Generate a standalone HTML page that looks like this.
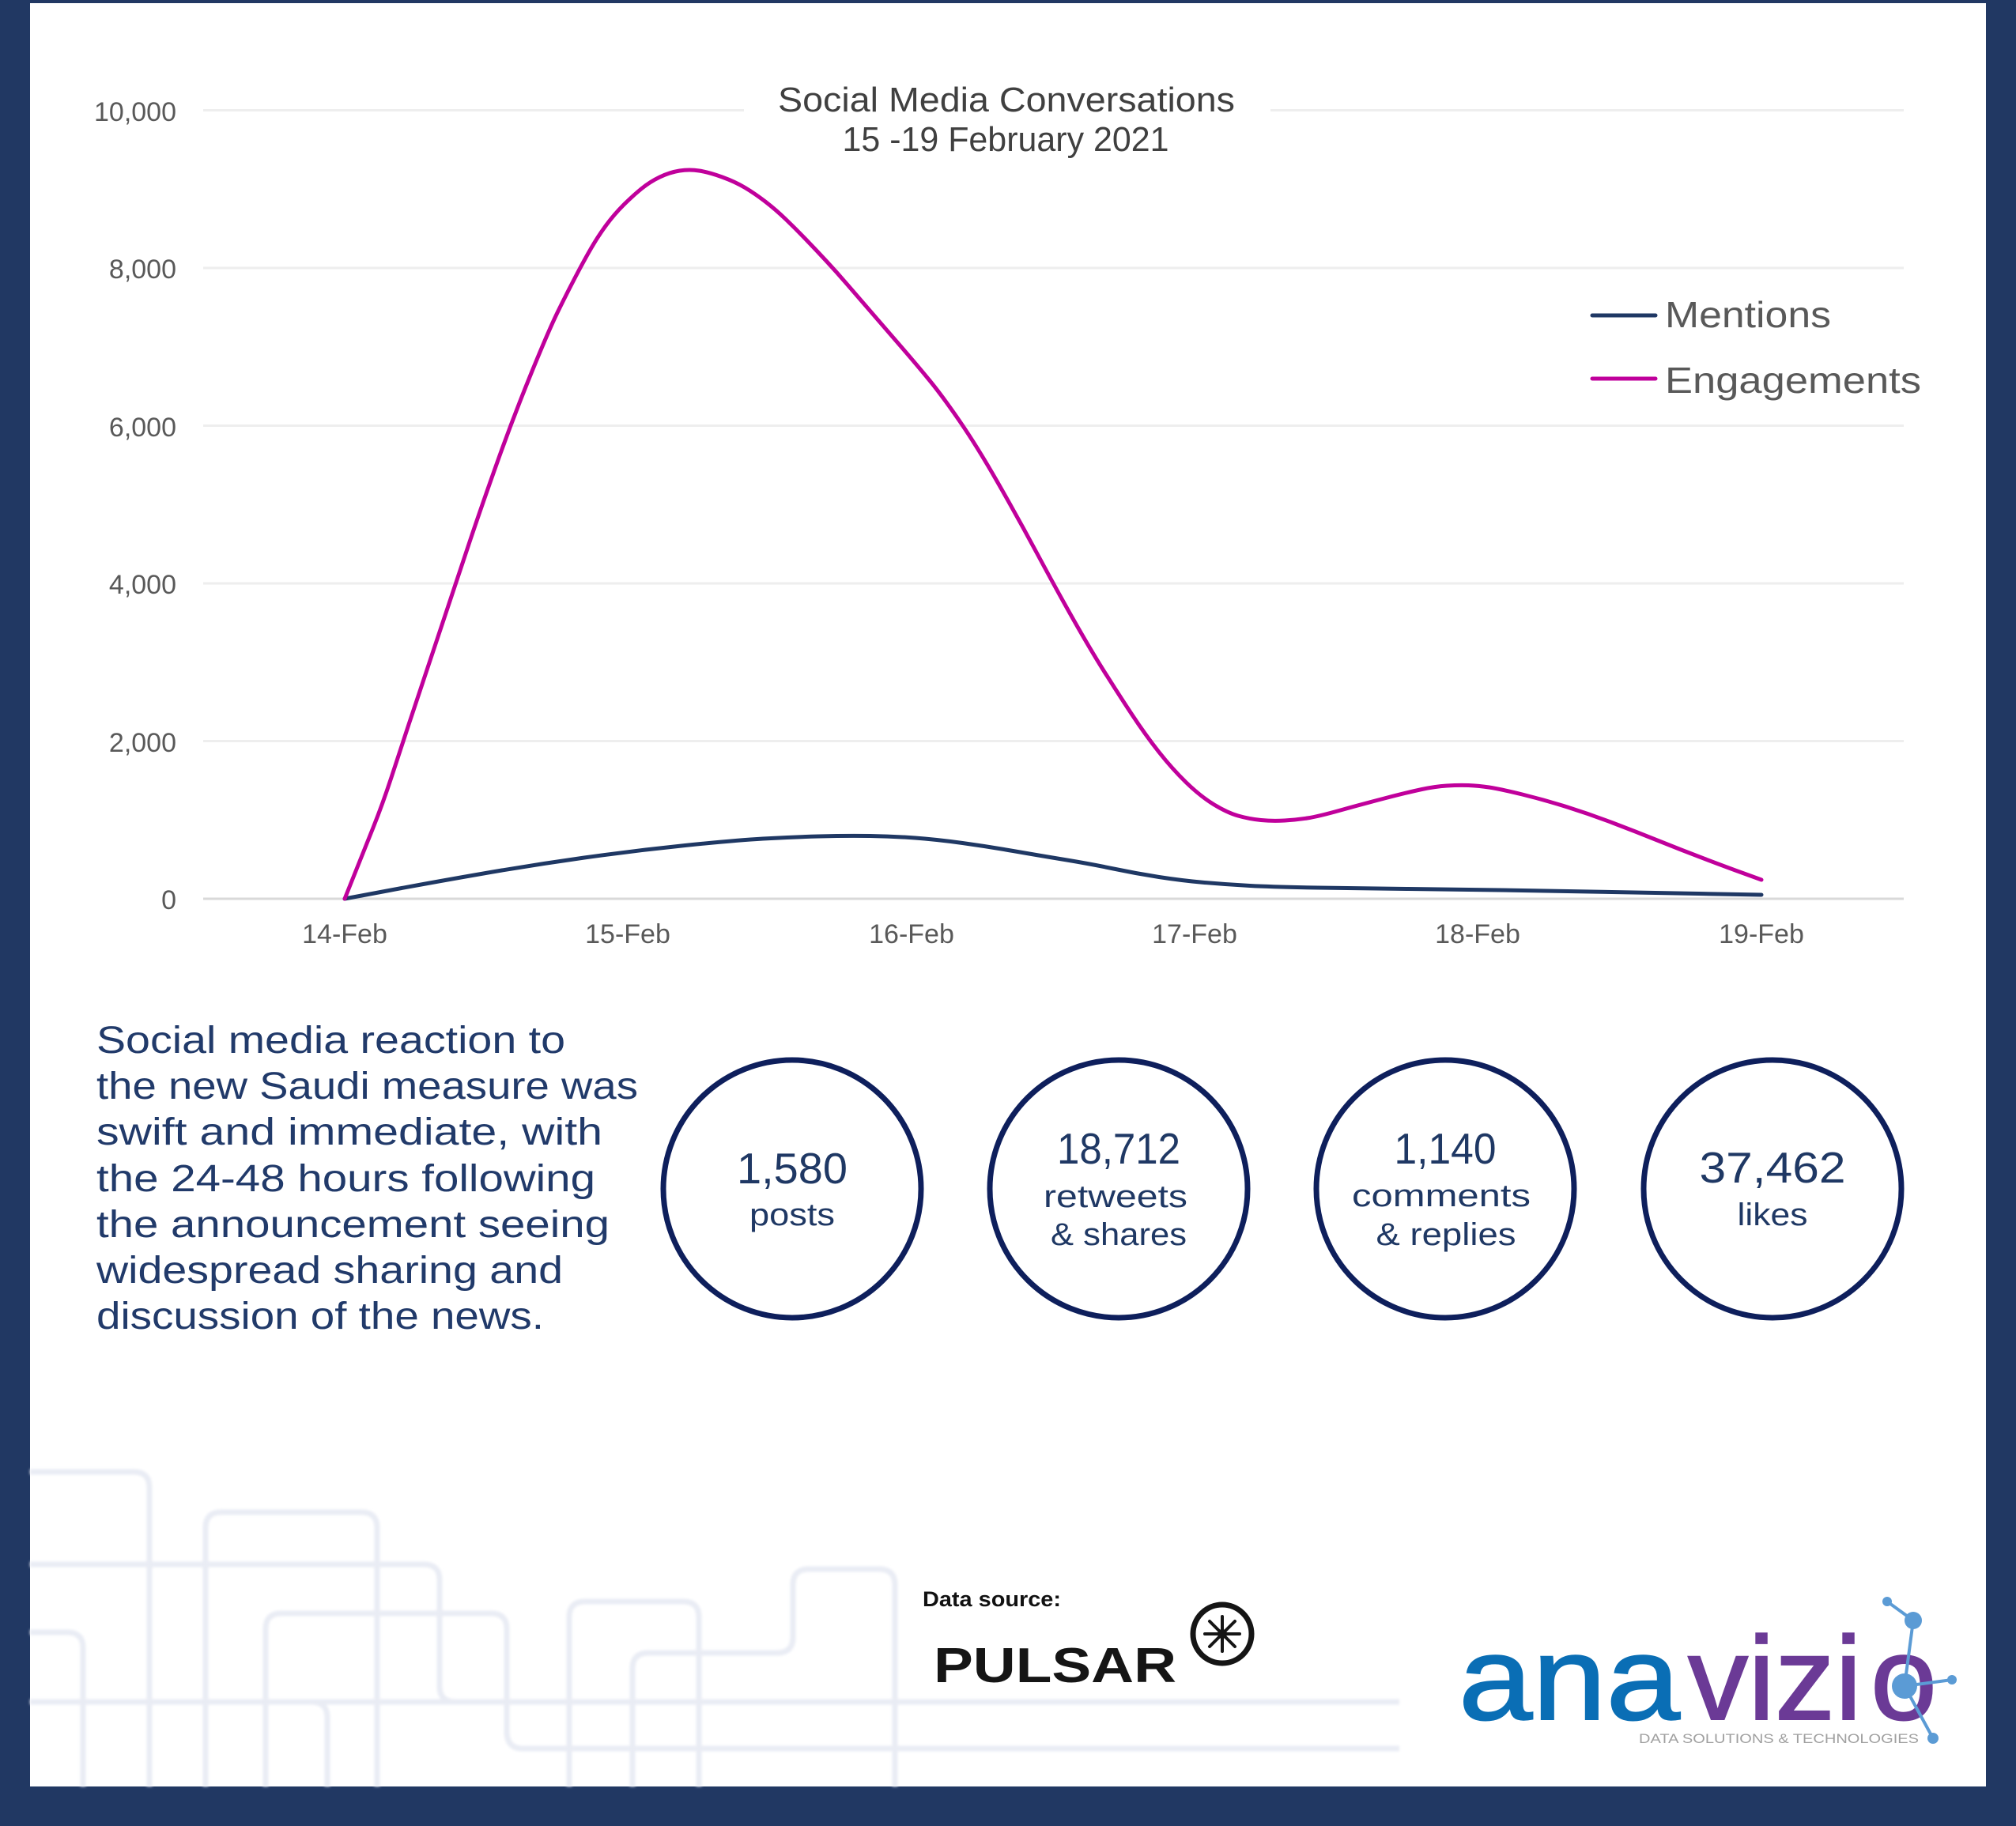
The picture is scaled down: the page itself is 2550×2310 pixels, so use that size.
<!DOCTYPE html>
<html>
<head>
<meta charset="utf-8">
<style>
html,body{margin:0;padding:0;background:#213863;}
svg{display:block;}
text{font-family:"Liberation Sans", sans-serif;}
</style>
</head>
<body>
<svg width="2550" height="2310" viewBox="0 0 2550 2310" xmlns="http://www.w3.org/2000/svg">
  <defs>
    <filter id="soft" x="-5%" y="-5%" width="110%" height="110%">
      <feGaussianBlur stdDeviation="1.5"/>
    </filter>
  </defs>
  <!-- frame -->
  <rect x="0" y="0" width="2550" height="2310" fill="#213863"/>
  <rect x="38" y="4" width="2474" height="2256" fill="#ffffff"/>

  <!-- background decorative lines -->
  <g fill="none" stroke="#E9ECF4" stroke-width="7" stroke-linecap="butt" filter="url(#soft)">
    <path d="M38,1862 H169 Q189,1862 189,1882 V2260"/>
    <path d="M260,2260 V1933 Q260,1913 280,1913 H457 Q477,1913 477,1933 V2260"/>
    <path d="M38,1979 H536 Q556,1979 556,1999 V2133 Q556,2153 576,2153 H1770"/>
    <path d="M38,2065 H85 Q105,2065 105,2085 V2260"/>
    <path d="M336,2260 V2061 Q336,2041 356,2041 H621 Q641,2041 641,2061 V2190 Q641,2212 661,2212 H1770"/>
    <path d="M38,2153 H1770"/>
    <path d="M394,2153 Q414,2153 414,2173 V2260"/>
    <path d="M720,2260 V2046 Q720,2026 740,2026 H864 Q884,2026 884,2046 V2260"/>
    <path d="M800,2260 V2111 Q800,2091 820,2091 H983 Q1003,2091 1003,2071 V2005 Q1003,1985 1023,1985 H1112 Q1132,1985 1132,2005 V2260"/>
  </g>

  <!-- gridlines -->
  <g stroke="#EEEEEE" stroke-width="3">
    <line x1="257" y1="139.5" x2="941" y2="139.5"/>
    <line x1="1607" y1="139.5" x2="2408" y2="139.5"/>
    <line x1="257" y1="339" x2="2408" y2="339"/>
    <line x1="257" y1="538.5" x2="2408" y2="538.5"/>
    <line x1="257" y1="738" x2="2408" y2="738"/>
    <line x1="257" y1="937.5" x2="2408" y2="937.5"/>
  </g>
  <line x1="257" y1="1137" x2="2408" y2="1137" stroke="#D9D9D9" stroke-width="3"/>

  <!-- y labels -->
  <g font-size="34" fill="#595959" text-anchor="end">
    <text x="223" y="153" textLength="104" lengthAdjust="spacingAndGlyphs">10,000</text>
    <text x="223" y="352">8,000</text>
    <text x="223" y="552">6,000</text>
    <text x="223" y="751">4,000</text>
    <text x="223" y="951">2,000</text>
    <text x="223" y="1150">0</text>
  </g>

  <!-- x labels -->
  <g font-size="34" fill="#595959" text-anchor="middle">
    <text x="436" y="1193">14-Feb</text>
    <text x="794" y="1193">15-Feb</text>
    <text x="1153" y="1193">16-Feb</text>
    <text x="1511" y="1193">17-Feb</text>
    <text x="1869" y="1193">18-Feb</text>
    <text x="2228" y="1193">19-Feb</text>
  </g>

  <!-- title -->
  <g font-size="44" fill="#404040" text-anchor="middle">
    <text x="1273" y="141" textLength="578" lengthAdjust="spacingAndGlyphs">Social Media Conversations</text>
    <text x="1272" y="191" textLength="413" lengthAdjust="spacingAndGlyphs">15 -19 February 2021</text>
  </g>

  <!-- series -->
  <path fill="none" stroke="#1F3864" stroke-width="5" stroke-linejoin="round" stroke-linecap="round"
    d="M436,1137 L492,1126.5 Q548,1116 611.5,1105 Q675,1094 739,1085 Q803,1076 866.5,1069.5 Q930,1063 965,1061 Q1000,1059 1035.5,1058 Q1071,1057 1100.5,1057.5 Q1130,1058 1157.5,1060 Q1185,1062 1217.5,1066.5 Q1250,1071 1281.5,1076.5 Q1313,1082 1346.5,1087.5 Q1380,1093 1408.5,1099 Q1437,1105 1466,1109.5 Q1495,1114 1523.5,1116.5 Q1552,1119 1581,1120.5 Q1610,1122 1667,1123 Q1724,1124 1781.5,1124.5 Q1839,1125 1896.5,1126 Q1954,1127 2011.5,1128 Q2069,1129 2148.5,1130.5 L2228,1132"/>
  <path fill="none" stroke="#C0009B" stroke-width="5" stroke-linejoin="round" stroke-linecap="round"
    d="M436,1137 L448,1107 Q460,1077 472,1047 Q484,1017 495,983.5 Q506,950 517,916.5 Q528,883 541,844.5 Q554,806 566.5,768 Q579,730 595,682.5 Q611,635 630.5,580.5 Q650,526 672,472 Q694,418 705.5,394.5 Q717,371 728,350 Q739,329 748,313.5 Q757,298 767,284.5 Q777,271 788.5,259.5 Q800,248 811,239 Q822,230 834.5,224 Q847,218 859.5,216 Q872,214 884.5,216 Q897,218 913.5,224 Q930,230 942.5,237.5 Q955,245 968,255 Q981,265 993.5,277 Q1006,289 1019,302.5 Q1032,316 1045,330 Q1058,344 1070.5,358.5 Q1083,373 1102.5,395.5 Q1122,418 1141,440 Q1160,462 1176,481.5 Q1192,501 1214,533 Q1236,565 1261.5,609.5 Q1287,654 1312.5,701.5 Q1338,749 1359,786 Q1380,823 1397,850 Q1414,877 1431.5,903.5 Q1449,930 1466,951.5 Q1483,973 1500.5,990 Q1518,1007 1535,1017.5 Q1552,1028 1566,1032 Q1580,1036 1595,1037.5 Q1610,1039 1625,1038 Q1640,1037 1653.5,1035 Q1667,1033 1695.5,1025 Q1724,1017 1753,1009.5 Q1782,1002 1798.5,998.5 Q1815,995 1830,994 Q1845,993 1857.5,993.5 Q1870,994 1883.5,996 Q1897,998 1925.5,1005 Q1954,1012 1982.5,1021 Q2011,1030 2040,1041 Q2069,1052 2097.5,1063.5 Q2126,1075 2155,1086 Q2184,1097 2206,1105 L2228,1113"/>

  <!-- legend -->
  <line x1="2014" y1="399" x2="2094" y2="399" stroke="#1F3864" stroke-width="5" stroke-linecap="round"/>
  <line x1="2014" y1="479" x2="2094" y2="479" stroke="#C0009B" stroke-width="5" stroke-linecap="round"/>
  <g font-size="46" fill="#595959">
    <text x="2106" y="414" textLength="210" lengthAdjust="spacingAndGlyphs">Mentions</text>
    <text x="2106" y="497" textLength="324" lengthAdjust="spacingAndGlyphs">Engagements</text>
  </g>

  <!-- paragraph -->
  <g font-size="48" fill="#213A6A">
    <text x="122" y="1332" textLength="593" lengthAdjust="spacingAndGlyphs">Social media reaction to</text>
    <text x="122" y="1390" textLength="685" lengthAdjust="spacingAndGlyphs">the new Saudi measure was</text>
    <text x="122" y="1448" textLength="640" lengthAdjust="spacingAndGlyphs">swift and immediate, with</text>
    <text x="122" y="1507" textLength="631" lengthAdjust="spacingAndGlyphs">the 24-48 hours following</text>
    <text x="122" y="1565" textLength="649" lengthAdjust="spacingAndGlyphs">the announcement seeing</text>
    <text x="122" y="1623" textLength="590" lengthAdjust="spacingAndGlyphs">widespread sharing and</text>
    <text x="122" y="1681" textLength="566" lengthAdjust="spacingAndGlyphs">discussion of the news.</text>
  </g>

  <!-- stat circles -->
  <g fill="none" stroke="#0E1F5C" stroke-width="7">
    <circle cx="1002" cy="1504" r="163"/>
    <circle cx="1415" cy="1504" r="163"/>
    <circle cx="1828" cy="1504" r="163"/>
    <circle cx="2242" cy="1504" r="163"/>
  </g>
  <g fill="#1F3864" text-anchor="middle">
    <text x="1002" y="1497" font-size="55" textLength="140" lengthAdjust="spacingAndGlyphs">1,580</text>
    <text x="1002" y="1550" font-size="40" textLength="108" lengthAdjust="spacingAndGlyphs">posts</text>

    <text x="1415" y="1472" font-size="55" textLength="156" lengthAdjust="spacingAndGlyphs">18,712</text>
    <text x="1411" y="1527" font-size="40" textLength="182" lengthAdjust="spacingAndGlyphs">retweets</text>
    <text x="1415" y="1575" font-size="40" textLength="172" lengthAdjust="spacingAndGlyphs">&amp; shares</text>

    <text x="1828" y="1472" font-size="55" textLength="129" lengthAdjust="spacingAndGlyphs">1,140</text>
    <text x="1823" y="1526" font-size="40" textLength="226" lengthAdjust="spacingAndGlyphs">comments</text>
    <text x="1829" y="1575" font-size="40" textLength="177" lengthAdjust="spacingAndGlyphs">&amp; replies</text>

    <text x="2242" y="1496" font-size="55" textLength="185" lengthAdjust="spacingAndGlyphs">37,462</text>
    <text x="2242" y="1550" font-size="40" textLength="89" lengthAdjust="spacingAndGlyphs">likes</text>
  </g>

  <!-- data source -->
  <text x="1167" y="2032" font-size="27" font-weight="bold" fill="#111111" textLength="175" lengthAdjust="spacingAndGlyphs">Data source:</text>
  <text x="1181" y="2128" font-size="62" font-weight="bold" fill="#151515" textLength="307" lengthAdjust="spacingAndGlyphs">PULSAR</text>
  <g stroke="#151515" fill="none">
    <circle cx="1546" cy="2067" r="37" stroke-width="7"/>
    <g stroke-width="4" stroke-linecap="round">
      <line x1="1546" y1="2045" x2="1546" y2="2089"/>
      <line x1="1524" y1="2067" x2="1568" y2="2067"/>
      <line x1="1530" y1="2051" x2="1562" y2="2083"/>
      <line x1="1562" y1="2051" x2="1530" y2="2083"/>
    </g>
    <circle cx="1546" cy="2067" r="6" fill="#151515" stroke="none"/>
  </g>

  <!-- anavizio logo -->
  <text x="1845" y="2175" font-size="150" fill="#0A6EB5" stroke="#0A6EB5" stroke-width="2" textLength="280" lengthAdjust="spacingAndGlyphs">ana</text>
  <text x="2135" y="2175" font-size="150" fill="#6B3A96" stroke="#6B3A96" stroke-width="2" textLength="220" lengthAdjust="spacingAndGlyphs">vizi</text>
  <text x="2366" y="2175" font-size="150" fill="#6B3A96" stroke="#6B3A96" stroke-width="2" textLength="84" lengthAdjust="spacingAndGlyphs">o</text>
  <g stroke="#5B9BD5" stroke-width="4" fill="#5B9BD5">
    <line x1="2387" y1="2026" x2="2420" y2="2050"/>
    <line x1="2420" y1="2050" x2="2409" y2="2133"/>
    <line x1="2409" y1="2133" x2="2469" y2="2125"/>
    <line x1="2409" y1="2133" x2="2445" y2="2199"/>
    <circle cx="2387" cy="2026" r="6" stroke="none"/>
    <circle cx="2420" cy="2050" r="11" stroke="none"/>
    <circle cx="2409" cy="2133" r="16" stroke="none"/>
    <circle cx="2469" cy="2125" r="6" stroke="none"/>
    <circle cx="2445" cy="2199" r="7" stroke="none"/>
  </g>
  <text x="2073" y="2205" font-size="17" fill="#A0A0A0" textLength="354" lengthAdjust="spacingAndGlyphs">DATA SOLUTIONS &amp; TECHNOLOGIES</text>
</svg>
</body>
</html>
